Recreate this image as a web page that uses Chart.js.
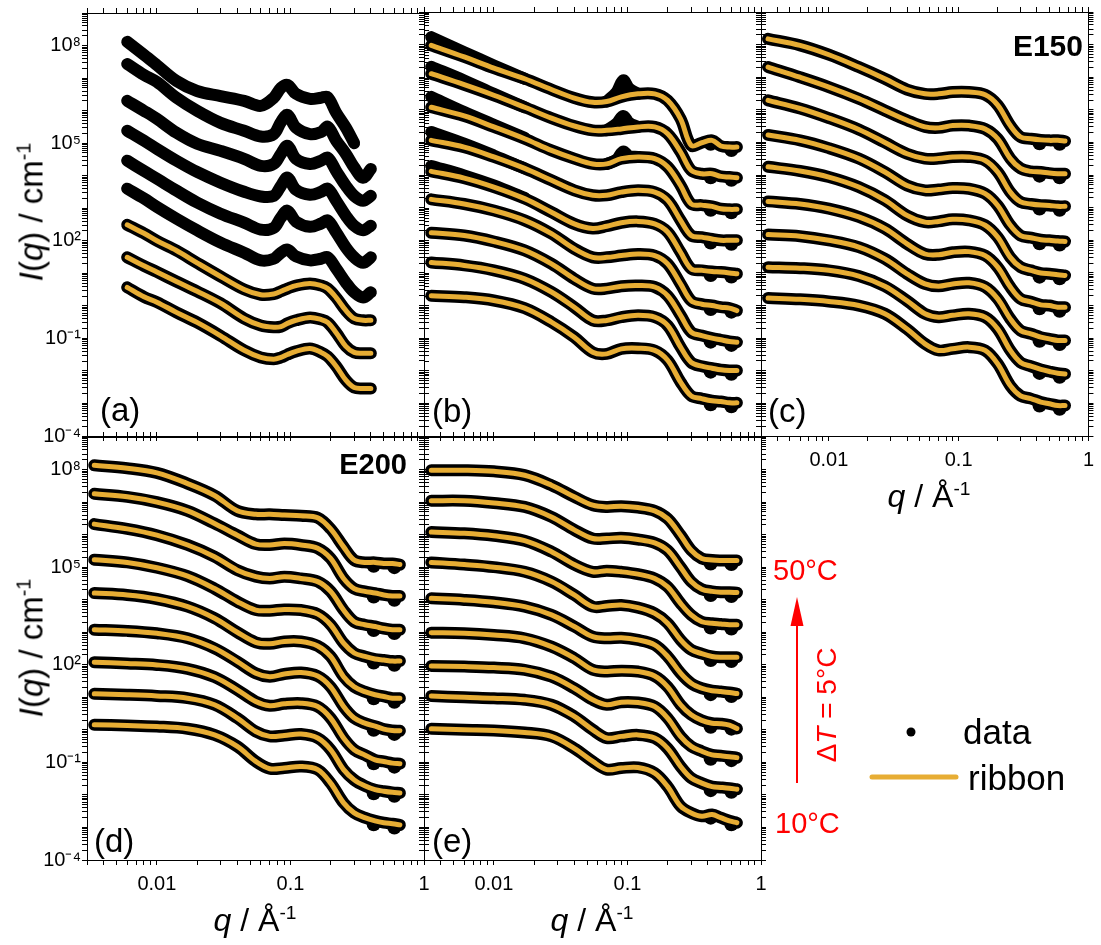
<!DOCTYPE html>
<html lang="en">
<head>
<meta charset="UTF-8">
<title>I(q) vs q, five panels</title>
<script src="https://cdn.jsdelivr.net/npm/chart.js"></script>
<style>
  body { margin: 0; background: #fff; font-family: "Liberation Sans", Arial, sans-serif; }
  #wrap { position: relative; width: 1101px; height: 945px; overflow: hidden; }
  canvas { position: absolute; left: 0; top: 0; }
  .t { position: absolute; white-space: nowrap; line-height: 1; color: #000; }
  .sup { font-size: 0.6em; position: relative; top: -0.62em; }
  .red { color: #f00; }
</style>
</head>
<body>
<div id="wrap">
  <canvas id="pa" width="1101" height="945"></canvas>
  <canvas id="pb" width="1101" height="945"></canvas>
  <canvas id="pc" width="1101" height="945"></canvas>
  <canvas id="pd" width="1101" height="945"></canvas>
  <canvas id="pe" width="1101" height="945"></canvas>

  <div class="t" style="left:100px;top:393px;font-size:33px">(a)</div>
  <div class="t" style="left:432px;top:394px;font-size:33px">(b)</div>
  <div class="t" style="left:768px;top:394px;font-size:33px">(c)</div>
  <div class="t" style="left:94px;top:824px;font-size:33px">(d)</div>
  <div class="t" style="left:432px;top:824px;font-size:33px">(e)</div>
  <div class="t" style="right:18px;top:31px;font-size:30px;font-weight:bold">E150</div>
  <div class="t" style="right:694px;top:450px;font-size:29px;font-weight:bold">E200</div>

  <div class="t" style="left:31px;top:212px;font-size:33px;transform:translate(-50%,-50%) rotate(-90deg)"><i>I</i>(<i>q</i>) / cm<span class="sup">-1</span></div>
  <div class="t" style="left:31px;top:648px;font-size:33px;transform:translate(-50%,-50%) rotate(-90deg)"><i>I</i>(<i>q</i>) / cm<span class="sup">-1</span></div>
  <div class="t" style="left:255px;top:904px;font-size:32px;transform:translateX(-50%)"><i>q</i> / Å<span class="sup">-1</span></div>
  <div class="t" style="left:592px;top:904px;font-size:32px;transform:translateX(-50%)"><i>q</i> / Å<span class="sup">-1</span></div>
  <div class="t" style="left:929px;top:480px;font-size:32px;transform:translateX(-50%)"><i>q</i> / Å<span class="sup">-1</span></div>

  <div class="t red" style="left:773px;top:556px;font-size:29px">50°C</div>
  <div class="t red" style="left:775px;top:809px;font-size:29px">10°C</div>
  <div class="t red" style="left:827px;top:705px;font-size:28px;transform:translate(-50%,-50%) rotate(-90deg)">Δ<i>T</i> = 5°C</div>
  <svg style="position:absolute;left:0;top:0" width="1101" height="945">
    <line x1="797" y1="783" x2="797" y2="620" stroke="#f00" stroke-width="2"/>
    <polygon points="797,597 790.5,626 803.5,626" fill="#f00"/>
    <circle cx="911" cy="732" r="4.5" fill="#000"/>
    <line x1="872" y1="777" x2="956" y2="777" stroke="#E7AD34" stroke-width="5" stroke-linecap="round"/>
  </svg>
  <div class="t" style="left:963px;top:714px;font-size:35px">data</div>
  <div class="t" style="left:968px;top:760px;font-size:35px">ribbon</div>
</div>

<script>
// q grids (1/Å)
const qGrid = [0.0034, 0.006, 0.01, 0.017, 0.027, 0.04, 0.055, 0.07, 0.09, 0.12, 0.16, 0.2, 0.25, 0.3, 0.36, 0.43, 0.5, 0.58, 0.66];
const qA = [0.006, 0.008, 0.01, 0.014, 0.02, 0.03, 0.045, 0.06, 0.075, 0.085, 0.095, 0.11, 0.14, 0.17, 0.19, 0.22, 0.26, 0.3, 0.35, 0.4];
const qLow = [0.0034, 0.006, 0.01, 0.017];
const qPeak = [0.07, 0.083, 0.093, 0.103, 0.12];
const qTail = [0.42, 0.6];

// temperatures, top curve first
const temps = [50, 45, 40, 35, 30, 25, 20, 15, 10];

// axis ticks
const xMajor = [0.01, 0.1, 1];
const xMajorLabels = ['0.01', '0.1', '1'];
const yMajor = [1e-4, 1e-1, 1e2, 1e5, 1e8];
const yMajorLabels = ['10⁻⁴', '10⁻¹', '10²', '10⁵', '10⁸'];

// panel (a): measured curves (offset), 50°C first
const dataA = [
  [1.3e8, 5.2e7, 2.5e7, 8.2e6, 4.0e6, 2.8e6, 2.0e6, 1.4e6, 2.5e6, 5.0e6, 6.2e6, 3.3e6, 2.3e6, 2.5e6, 2.6e6, 8.6e5, 3.0e5, 1.0e5, null, null],
  [2.7e7, 1.25e7, 7.6e6, 2.5e6, 9.9e5, 4.2e5, 2.4e5, 1.6e5, 1.9e5, 4.5e5, 7.4e5, 3.0e5, 1.9e5, 2.2e5, 3.2e5, 1.2e5, 4.7e4, 1.8e4, 8.7e3, 1.6e4],
  [2.0e6, 9.9e5, 5.6e5, 2.1e5, 9.6e4, 5.8e4, 3.3e4, 2.0e4, 2.3e4, 4.7e4, 8.3e4, 3.3e4, 2.3e4, 2.9e4, 3.6e4, 1.4e4, 4.9e3, 2.4e3, 1.7e3, 2.4e3],
  [2.4e5, 1.2e5, 6.7e4, 2.9e4, 1.3e4, 6.1e3, 3.2e3, 2.3e3, 2.4e3, 4.9e3, 8.7e3, 3.7e3, 2.6e3, 3.2e3, 4.0e3, 1.7e3, 5.9e2, 2.9e2, 2.1e2, 2.9e2],
  [2.9e4, 1.4e4, 8.1e3, 3.5e3, 1.5e3, 6.8e2, 3.6e2, 2.2e2, 2.5e2, 5.2e2, 8.4e2, 3.9e2, 2.7e2, 3.4e2, 4.2e2, 1.8e2, 62, 31, 21, 31],
  [4.0e3, 2.0e3, 1.1e3, 4.8e2, 2.1e2, 88, 43, 25, 28, 43, 54, 33, 25, 28, 31, 14, 5.2, 2.6, 1.8, 2.6],
  [3.1e2, 1.7e2, 1.0e2, 50, 21, 8.0, 3.2, 2.2, 2.3, 2.8, 3.4, 4.2, 4.9, 4.2, 3.4, 1.8, 0.72, 0.41, 0.36, 0.36],
  [31, 17, 11, 5.6, 2.8, 1.2, 0.41, 0.25, 0.22, 0.23, 0.29, 0.36, 0.44, 0.38, 0.31, 0.15, 0.057, 0.037, 0.035, 0.035],
  [3.7, 1.9, 1.3, 0.63, 0.31, 0.12, 0.043, 0.026, 0.023, 0.026, 0.032, 0.040, 0.049, 0.037, 0.028, 0.014, 0.0052, 0.0031, 0.0029, 0.0029]
];
// ribbon fits only exist for the three coldest curves in (a)
const ribbonA = [dataA[6], dataA[7], dataA[8]];

// panel (b)
const ribbonB = [
  [9.5e7, 4.2e7, 1.9e7, 9.0e6, 4.2e6, 2.3e6, 1.7e6, 1.8e6, 2.5e6, 3.1e6, 3.1e6, 1.95e6, 5.3e5, 8.1e4, 9.8e4, 1.16e5, 7.8e4, 7.2e4, 7.2e4],
  [1.28e7, 5.9e6, 2.8e6, 1.2e6, 5.6e5, 3.2e5, 2.35e5, 2.35e5, 2.6e5, 3.0e5, 3.0e5, 1.85e5, 5.1e4, 1.4e4, 1.1e4, 1.1e4, 9.1e3, 8.7e3, 8.3e3],
  [1.2e6, 6.5e5, 3.0e5, 1.3e5, 5.7e4, 3.2e4, 2.2e4, 2.2e4, 3.2e4, 3.6e4, 3.2e4, 1.8e4, 4.8e3, 1.3e3, 1.2e3, 1.1e3, 9.3e2, 8.9e2, 8.9e2],
  [1.16e5, 7.2e4, 3.6e4, 1.6e4, 6.9e3, 3.4e3, 2.4e3, 2.4e3, 3.0e3, 3.4e3, 3.0e3, 1.7e3, 4.1e2, 1.4e2, 1.25e2, 1.1e2, 1.0e2, 1.0e2, 1.0e2],
  [1.3e4, 8.1e3, 4.3e3, 1.9e3, 7.3e2, 3.2e2, 2.3e2, 2.7e2, 3.45e2, 3.8e2, 3.2e2, 1.8e2, 43, 13.4, 12, 11, 10.6, 10, 9.4],
  [1.8e3, 1.3e3, 8.2e2, 4.1e2, 1.6e2, 55, 30, 30, 34, 38, 34, 19, 4.6, 1.4, 1.1, 1.0, 0.89, 0.83, 0.70],
  [1.7e2, 1.4e2, 92, 49, 19, 6.6, 3.3, 3.3, 3.9, 4.1, 3.7, 2.0, 0.50, 0.153, 0.12, 0.10, 0.089, 0.079, 0.075],
  [21, 17, 12, 6.6, 2.6, 0.89, 0.35, 0.35, 0.44, 0.50, 0.44, 0.245, 0.053, 0.018, 0.0138, 0.012, 0.0107, 0.0102, 0.0102],
  [2.0, 1.8, 1.43, 0.83, 0.31, 0.107, 0.037, 0.033, 0.047, 0.049, 0.042, 0.021, 0.0045, 0.0017, 0.0014, 0.0012, 0.00114, 0.00104, 0.00104]
];
// (b) measured points that leave the ribbon: low-q upturn, Bragg peak, high-q wiggles
const lowB = [
  [1.7e8, 5.9e7, 2.3e7, 9.0e6],
  [2.1e7, 8.0e6, 3.1e6, 1.2e6],
  [2.5e6, 8.6e5, 3.5e5, 1.4e5],
  [2.1e5, 9.2e4, 4.0e4, 1.6e4],
  [1.9e4, 9.8e3, 4.8e3, 2.0e3]
];
const peakB = [
  [1.8e6, 3.5e6, 8.0e6, 4.5e6, 3.1e6],
  [2.35e5, 3.8e5, 6.5e5, 4.0e5, 3.0e5],
  [2.2e4, 3.0e4, 5.3e4, 3.8e4, 3.6e4]
];
const tailB = [[9.1e4, 5.9e4], [8.6e3, 7.2e3], [8.6e2, 7.2e2], [86, 78], [8.6, 7.8], [0.78, 0.65], [0.078, 0.062], [0.0094, 0.0081], [9.4e-4, 8.1e-4]];

// panel (c) E150
const ribbonC = [
  [1.5e8, 9.5e7, 4.9e7, 2.05e7, 9.0e6, 4.2e6, 3.1e6, 3.1e6, 3.5e6, 3.5e6, 2.9e6, 1.4e6, 3.3e5, 1.47e5, 1.3e5, 1.2e5, 1.16e5, 1.16e5, 1.1e5],
  [2.05e7, 1.0e7, 5.0e6, 2.2e6, 9.6e5, 4.8e5, 3.0e5, 2.8e5, 3.3e5, 3.3e5, 2.6e5, 1.3e5, 3.2e4, 1.6e4, 1.3e4, 1.24e4, 1.15e4, 1.1e4, 1.1e4],
  [1.95e6, 1.1e6, 5.6e5, 2.5e5, 1.0e5, 4.5e4, 3.2e4, 3.2e4, 3.6e4, 3.6e4, 2.8e4, 1.24e4, 3.0e3, 1.5e3, 1.3e3, 1.2e3, 1.17e3, 1.1e3, 1.1e3],
  [1.7e5, 1.16e5, 6.7e4, 3.2e4, 1.24e4, 4.8e3, 3.4e3, 3.6e3, 4.0e3, 3.8e3, 2.7e3, 1.17e3, 2.9e2, 1.4e2, 1.2e2, 1.04e2, 1.0e2, 95, 92],
  [1.8e4, 1.33e4, 8.7e3, 4.3e3, 1.7e3, 5.8e2, 3.6e2, 3.8e2, 4.4e2, 4.1e2, 2.9e2, 1.25e2, 30, 15, 12, 9.9, 9.4, 8.8, 8.4],
  [1.56e3, 1.3e3, 9.3e2, 5.2e2, 2.3e2, 78, 38, 36, 43, 45, 34, 15, 3.7, 1.6, 1.3, 1.05, 1.0, 0.89, 0.89],
  [1.5e2, 1.34e2, 1.0e2, 62, 27, 9.4, 4.6, 3.9, 4.6, 5.0, 3.7, 1.6, 0.39, 0.17, 0.136, 0.107, 0.095, 0.085, 0.085],
  [15, 14, 12, 8.0, 3.9, 1.4, 0.56, 0.44, 0.50, 0.56, 0.44, 0.19, 0.042, 0.018, 0.0138, 0.011, 0.0095, 0.0084, 0.0080],
  [1.7, 1.55, 1.33, 1.0, 0.56, 0.19, 0.067, 0.042, 0.047, 0.053, 0.042, 0.0163, 0.0035, 0.0017, 0.0014, 0.0011, 0.00097, 0.00086, 0.00086]
];
const tailC = [[9.4e4, 9.1e4], [9.6e3, 8.6e3], [9.4e2, 8.6e2], [81, 74], [7.7, 6.9], [0.82, 0.69], [0.083, 0.066], [0.0086, 0.0065], [8.6e-4, 6.8e-4]];

// panel (d) E200
const ribbonD = [
  [1.35e8, 1.1e8, 7.9e7, 3.7e7, 1.6e7, 5.4e6, 4.2e6, 4.2e6, 4.0e6, 3.8e6, 3.3e6, 1.5e6, 4.2e5, 1.65e5, 1.4e5, 1.4e5, 1.3e5, 1.3e5, 1.2e5],
  [1.8e7, 1.45e7, 1.0e7, 5.4e6, 2.2e6, 9.6e5, 5.1e5, 4.8e5, 5.3e5, 4.8e5, 3.8e5, 1.85e5, 4.5e4, 2.2e4, 1.8e4, 1.6e4, 1.4e4, 1.3e4, 1.3e4],
  [2.1e6, 1.5e6, 9.6e5, 4.8e5, 2.1e5, 8.1e4, 5.1e4, 4.5e4, 5.1e4, 4.5e4, 3.6e4, 1.8e4, 4.8e3, 2.1e3, 1.7e3, 1.5e3, 1.3e3, 1.2e3, 1.2e3],
  [1.7e5, 1.4e5, 9.6e4, 5.3e4, 2.2e4, 8.7e3, 4.8e3, 4.6e3, 5.0e3, 4.8e3, 3.6e3, 1.7e3, 4.6e2, 2.3e2, 1.8e2, 1.5e2, 1.4e2, 1.3e2, 1.3e2],
  [1.6e4, 1.4e4, 1.05e4, 6.1e3, 2.7e3, 1.0e3, 4.9e2, 4.4e2, 5.2e2, 5.2e2, 3.8e2, 1.8e2, 43, 21, 15, 12, 10.6, 9.4, 9.4],
  [1.2e3, 1.1e3, 9.3e2, 6.5e2, 3.2e2, 1.25e2, 55, 43, 52, 58, 45, 21, 5.2, 2.3, 1.6, 1.3, 1.05, 0.96, 0.94],
  [1.2e2, 1.1e2, 99, 75, 42, 17, 7.4, 5.5, 6.3, 6.6, 5.2, 2.3, 0.56, 0.245, 0.17, 0.12, 0.107, 0.095, 0.091],
  [12.8, 12, 11, 9.4, 5.9, 2.3, 0.89, 0.63, 0.67, 0.74, 0.56, 0.245, 0.060, 0.029, 0.019, 0.0145, 0.013, 0.012, 0.0115],
  [1.43, 1.36, 1.27, 1.08, 0.70, 0.31, 0.107, 0.064, 0.067, 0.075, 0.060, 0.023, 0.0057, 0.0028, 0.0020, 0.0016, 0.0014, 0.0013, 0.0012]
];
const tailD = [[1.1e5, 1.0e5], [1.25e4, 1.0e4], [1.17e3, 9.4e2], [1.17e2, 1.0e2], [9.4, 7.3], [1.0, 0.75], [0.094, 0.074], [0.0113, 0.0094], [1.25e-3, 1.0e-3]];

// panel (e)
const ribbonE = [
  [9.5e7, 9.5e7, 8.8e7, 6.7e7, 3.3e7, 1.45e7, 8.0e6, 7.1e6, 7.5e6, 6.8e6, 5.4e6, 3.1e6, 9.6e5, 3.3e5, 1.85e5, 1.65e5, 1.6e5, 1.6e5, 1.6e5],
  [1.1e7, 1.1e7, 9.4e6, 7.1e6, 3.5e6, 1.4e6, 7.6e5, 7.6e5, 8.0e5, 7.1e5, 5.6e5, 3.3e5, 1.0e5, 3.6e4, 2.1e4, 1.8e4, 1.7e4, 1.7e4, 1.65e4],
  [1.2e6, 1.1e6, 9.2e5, 6.5e5, 3.0e5, 1.2e5, 7.2e4, 7.8e4, 7.2e4, 6.1e4, 4.5e4, 2.5e4, 7.7e3, 3.4e3, 2.1e3, 1.9e3, 1.8e3, 1.7e3, 1.7e3],
  [1.4e5, 1.2e5, 1.0e5, 7.2e4, 3.6e4, 1.4e4, 6.1e3, 6.4e3, 6.9e3, 5.7e3, 3.8e3, 1.9e3, 5.8e2, 2.9e2, 2.2e2, 1.8e2, 1.7e2, 1.7e2, 1.7e2],
  [1.1e4, 9.8e3, 8.3e3, 6.1e3, 3.4e3, 1.5e3, 7.3e2, 6.5e2, 6.8e2, 5.8e2, 4.1e2, 1.8e2, 55, 27, 19, 16, 15, 14, 13],
  [9.7e2, 9.3e2, 8.2e2, 6.5e2, 3.6e2, 1.6e2, 70, 62, 66, 62, 45, 21, 5.9, 2.9, 1.95, 1.6, 1.55, 1.4, 1.1],
  [92, 88, 82, 70, 43, 19, 8.4, 5.9, 7.1, 6.9, 5.2, 2.3, 0.63, 0.31, 0.22, 0.17, 0.16, 0.15, 0.14],
  [11, 10, 9.4, 8.4, 5.9, 2.6, 1.0, 0.56, 0.63, 0.70, 0.56, 0.27, 0.075, 0.033, 0.023, 0.018, 0.017, 0.016, 0.015],
  [1.08, 1.0, 0.96, 0.83, 0.63, 0.27, 0.107, 0.060, 0.067, 0.070, 0.047, 0.018, 0.0045, 0.0028, 0.0022, 0.0025, 0.0020, 0.0016, 0.0014]
];
const tailE = [[1.29e5, 1.25e5], [1.4e4, 1.3e4], [1.4e3, 1.3e3], [1.4e2, 1.3e2], [12.5, 10.9], [1.25, 1.09], [0.13, 0.117], [0.014, 0.0125], [0.0020, 0.00125]];

const W = 1101, H = 945;
const GOLD = '#E7AD34';
const FONT = '"Liberation Sans", Arial, sans-serif';

function points(qs, vals) {
  const out = [];
  qs.forEach((q, i) => { if (vals[i] != null) out.push({ x: q, y: vals[i] }); });
  return out;
}

function dataLine(qs, vals, w, label) {
  return {
    label: label, data: points(qs, vals), showLine: true,
    borderColor: '#000', backgroundColor: '#000', borderWidth: w,
    borderCapStyle: 'round', borderJoinStyle: 'round',
    pointRadius: 0, tension: 0.35, order: 2
  };
}

function dataDots(qs, vals, label) {
  return {
    label: label, data: points(qs, vals), showLine: false,
    backgroundColor: '#000', borderWidth: 0, pointRadius: 7, order: 2
  };
}

function ribbonLine(qs, vals, label) {
  return {
    label: label, data: points(qs, vals), showLine: true,
    borderColor: GOLD, backgroundColor: GOLD, borderWidth: 5,
    borderCapStyle: 'round', borderJoinStyle: 'round',
    pointRadius: 0, tension: 0.35, order: 1
  };
}

// every 1..9 x 10^n between min and max, as tick marks
function logTicks(min, max) {
  const out = [];
  for (let e = Math.floor(Math.log10(min)); e <= Math.ceil(Math.log10(max)); e++) {
    for (let m = 1; m <= 9; m++) {
      const v = m * Math.pow(10, e);
      if (v >= min * 0.999999 && v <= max * 1.000001) out.push(v);
    }
  }
  return out;
}

function axis(pos, min, max, major, labels, showLabels, size) {
  const horiz = pos === 'top' || pos === 'bottom';
  return {
    axis: horiz ? 'x' : 'y', type: 'logarithmic', position: pos, min: min, max: max,
    afterBuildTicks: s => { s.ticks = logTicks(min, max).map(v => ({ value: v })); },
    afterFit: s => { if (horiz) s.height = size; else s.width = size; },
    ticks: {
      display: showLabels, autoSkip: false, maxRotation: 0, minRotation: 0,
      padding: horiz ? 7 : 1, color: '#000',
      font: { family: FONT, size: 20 },
      callback: v => {
        for (let i = 0; i < major.length; i++) {
          if (Math.abs(Math.log10(v) - Math.log10(major[i])) < 1e-6) return labels[i];
        }
        return '';
      }
    },
    grid: { drawOnChartArea: false, drawTicks: true, tickLength: 5, color: '#000', tickColor: '#000', lineWidth: 1 },
    border: { display: true, color: '#000', width: 1 }
  };
}

function panel(id, box, datasets, showX, showY) {
  new Chart(document.getElementById(id), {
    type: 'scatter',
    data: { datasets: datasets },
    options: {
      responsive: false, animation: false, events: [],
      layout: {
        autoPadding: false,
        padding: { left: box.l - 60, top: box.t - 8, right: W - box.r - 4, bottom: H - box.b - 40 }
      },
      plugins: { legend: { display: false }, tooltip: { enabled: false } },
      scales: {
        x: axis('bottom', 0.003, 1, xMajor, xMajorLabels, showX, 40),
        x2: axis('top', 0.003, 1, xMajor, xMajorLabels, false, 8),
        y: axis('left', 1e-4, 1e9, yMajor, yMajorLabels, showY, 60),
        y2: axis('right', 1e-4, 1e9, yMajor, yMajorLabels, false, 4)
      }
    }
  });
}

function fullPanel(ribbons, tails) {
  const ds = [];
  ribbons.forEach((v, i) => {
    ds.push(dataLine(qGrid, v, 12, temps[i] + '°C data'));
    ds.push(dataDots(qTail, tails[i], temps[i] + '°C data, high q'));
    ds.push(ribbonLine(qGrid, v, temps[i] + '°C ribbon'));
  });
  return ds;
}

// (a)
const dsA = dataA.map((v, i) => dataLine(qA, v, 12, temps[i] + '°C data'));
ribbonA.forEach((v, i) => dsA.push(ribbonLine(qA, v, temps[6 + i] + '°C ribbon')));
panel('pa', { l: 87, t: 12, r: 424, b: 436 }, dsA, false, true);

// (b)
const dsB = fullPanel(ribbonB, tailB);
lowB.forEach((v, i) => dsB.push(dataLine(qLow, v, 12, temps[i] + '°C low q')));
peakB.forEach((v, i) => dsB.push(dataLine(qPeak, v, 12, temps[i] + '°C peak')));
panel('pb', { l: 424, t: 12, r: 761, b: 436 }, dsB, false, false);

// (c), (d), (e)
panel('pc', { l: 761, t: 12, r: 1097, b: 436 }, fullPanel(ribbonC, tailC), true, false);
panel('pd', { l: 87, t: 437, r: 424, b: 860 }, fullPanel(ribbonD, tailD), true, true);
panel('pe', { l: 424, t: 437, r: 761, b: 860 }, fullPanel(ribbonE, tailE), true, false);
</script>
</body>
</html>
